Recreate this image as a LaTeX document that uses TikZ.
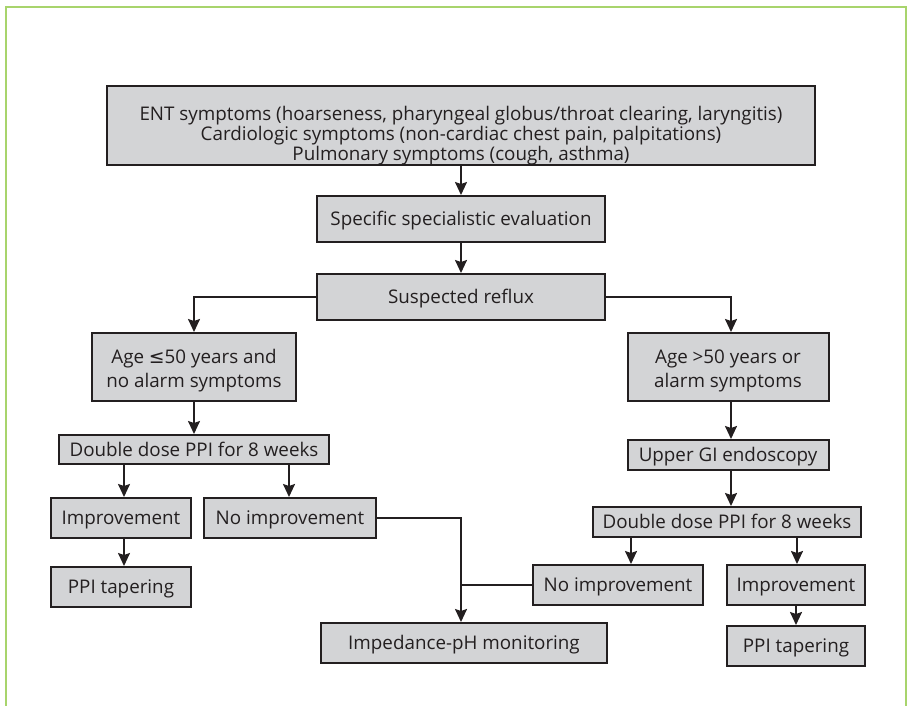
\documentclass[tikz,border=0pt]{standalone}
\usepackage{fontspec}
\setmainfont{Open Sans}
\newfontfamily\symfont{DejaVu Sans}
\usetikzlibrary{arrows.meta,positioning,calc}
\definecolor{framegreen}{RGB}{168,212,108}
\definecolor{boxgray}{RGB}{211,212,214}
\definecolor{ink}{RGB}{35,31,32}
\tikzset{
  box/.style={draw=ink, fill=boxgray, line width=2bp, inner sep=0pt, align=center,
    text=ink, font=\fontsize{18.8bp}{20bp}\selectfont},
  twobox/.style={box, font=\fontsize{18.8bp}{24bp}\selectfont},
  onebox/.style={box, text height=14bp, text depth=1bp},
  conn/.style={draw=ink, line width=1.8bp},
  arr/.style={conn, -{Stealth[length=13bp,width=12bp,inset=2bp]}},
}
\begin{document}
\begin{tikzpicture}[x=1bp,y=-1bp]
\useasboundingbox (0,0) rectangle (912,706);
% frame
\draw[framegreen, line width=2bp] (6,712) -- (6,7) -- (906,7) -- (906,712);
% nodes
\node[box, minimum width=708bp, minimum height=71bp] (top) at (461,125.5)
  {\rule{0pt}{34bp}ENT symptoms (hoarseness, pharyngeal globus/throat clearing, laryngitis)\\
   Cardiologic symptoms (non-cardiac chest pain, palpitations)\\
   Pulmonary symptoms (cough, asthma)};
\node[onebox, minimum width=288bp, minimum height=46bp] (spec) at (461,219) {Specific specialistic evaluation};
\node[onebox, minimum width=288bp, minimum height=46bp] (susp) at (461,297) {Suspected reflux};
\node[twobox, minimum width=203bp, minimum height=68bp] (ageL) at (194,367) {\rule{0pt}{21bp}Age {\symfont ≤}50 years and\\no alarm symptoms};
\node[twobox, minimum width=201bp, minimum height=68bp] (ageR) at (728,367) {\rule{0pt}{21bp}Age >50 years or\\alarm symptoms};
\node[onebox, minimum width=270bp, minimum height=29bp] (ddL) at (194,449.5) {Double dose PPI for 8 weeks};
\node[onebox, minimum width=139bp, minimum height=40bp] (impL) at (121,518) {Improvement};
\node[onebox, minimum width=172bp, minimum height=40bp] (noL) at (290,518) {No improvement};
\node[onebox, minimum width=139bp, minimum height=40bp] (tapL) at (121,587) {PPI tapering};
\node[onebox, minimum width=286bp, minimum height=40bp] (imp) at (464,643) {Impedance-pH monitoring};
\node[onebox, minimum width=201bp, minimum height=30bp] (upper) at (728,455) {Upper GI endoscopy};
\node[onebox, minimum width=268bp, minimum height=30bp] (ddR) at (727,522) {Double dose PPI for 8 weeks};
\node[onebox, minimum width=170bp, minimum height=40bp] (noR) at (618,585) {No improvement};
\node[onebox, minimum width=138bp, minimum height=40bp] (impR) at (796,585) {Improvement};
\node[onebox, minimum width=138bp, minimum height=40bp] (tapR) at (796,646) {PPI tapering};
% connectors
\draw[arr] (top.south) -- (spec.north);
\draw[arr] (spec.south) -- (susp.north);
\draw[arr] (susp.west) -| (ageL.north);
\draw[arr] (susp.east) -| ([xshift=3bp]ageR.north);
\draw[arr] (ageL.south) -- (ddL.north);
\draw[arr] ([xshift=-70bp]ddL.south) -- ([xshift=-70bp]ddL.south |- impL.north);
\draw[arr] ([xshift=95bp]ddL.south) -- ([xshift=95bp]ddL.south |- noL.north);
\draw[arr] ([xshift=3bp]impL.south) -- ([xshift=3bp]tapL.north);
\coordinate (join) at ([xshift=-3bp]imp.north);
\draw[arr] (noL.east) -| (join);
\draw[conn] (noR.west) -- (noR.west -| join);
\draw[arr] ([xshift=3bp]ageR.south) -- ([xshift=3bp]upper.north);
\draw[arr] ([xshift=3bp]upper.south) -- ([xshift=3bp]upper.south |- ddR.north);
\draw[arr] ([xshift=-96bp]ddR.south) -- ([xshift=-96bp]ddR.south |- noR.north);
\draw[arr] ([xshift=70bp]ddR.south) -- ([xshift=70bp]ddR.south |- impR.north);
\draw[arr] (impR.south) -- (tapR.north);
\end{tikzpicture}
\end{document}
